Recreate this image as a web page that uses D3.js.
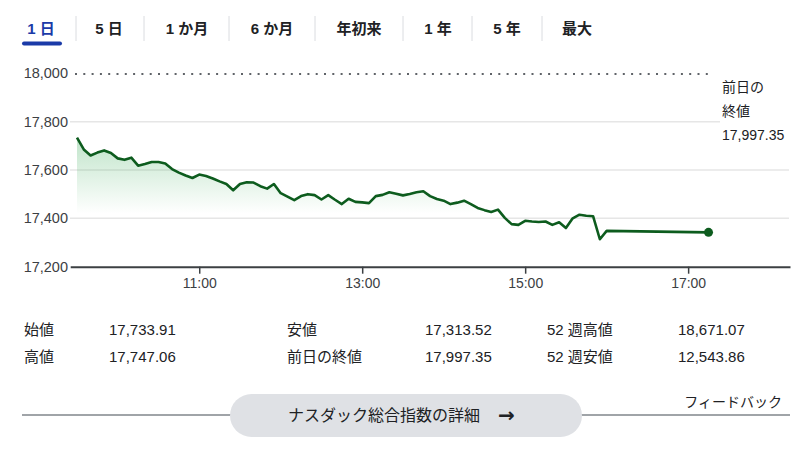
<!DOCTYPE html>
<html><head><meta charset="utf-8">
<script src="https://cdn.jsdelivr.net/npm/d3@7"></script>
<style>
body{margin:0;background:#fff;}
svg{display:block;font-family:"Liberation Sans",Arial,"Noto Sans CJK JP",sans-serif;}
</style></head>
<body><svg id="c" width="800" height="476"></svg>
<script>
const tabs = ["1 日","5 日","1 か月","6 か月","年初来","1 年","5 年","最大"];
const times = ["09:30","09:35","09:40","09:45","09:50","09:55",
"10:00","10:05","10:10","10:15","10:20","10:25","10:30","10:35","10:40","10:45","10:50","10:55",
"11:00","11:05","11:10","11:15","11:20","11:25","11:30","11:35","11:40","11:45","11:50","11:55",
"12:00","12:05","12:10","12:15","12:20","12:25","12:30","12:35","12:40","12:45","12:50","12:55",
"13:00","13:05","13:10","13:15","13:20","13:25","13:30","13:35","13:40","13:45","13:50","13:55",
"14:00","14:05","14:10","14:15","14:20","14:25","14:30","14:35","14:40","14:45","14:50","14:55",
"15:00","15:05","15:10","15:15","15:20","15:25","15:30","15:35","15:40","15:45","15:50","15:55",
"16:00","17:15"];
const values = [17734,17685,17660,17672,17681,17670,17648,17642,17651,17618,
17625,17633,17633,17627,17604,17589,17577,17567,17581,17575,
17565,17553,17542,17516,17542,17549,17548,17533,17523,17542,
17504,17490,17475,17492,17500,17496,17478,17496,17477,17459,
17481,17468,17466,17463,17492,17497,17508,17502,17495,17501,
17508,17512,17492,17480,17473,17459,17465,17473,17459,17443,
17434,17426,17436,17402,17376,17373,17390,17387,17385,17387,
17373,17384,17360,17400,17415,17411,17409,17313.52,17348,17342];
const yTicks = [17200,17400,17600,17800,18000];
const xTicks = ["11:00","13:00","15:00","17:00"];
const prevClose = 17997.35;
const statLabels1 = ["始値","高値"];
const statValues1 = ["17,733.91","17,747.06"];
const statLabels2 = ["安値","前日の終値"];
const statValues2 = ["17,313.52","17,997.35"];
const statLabels3 = ["52 週高値","52 週安値"];
const statValues3 = ["18,671.07","12,543.86"];

const svg = d3.select("#c");
const parse = d3.timeParse("%H:%M");
const data = times.map((t,i)=>({t:parse(t), v:values[i]}));

const x = d3.scaleTime().domain([parse("09:25"), parse("18:15")]).range([70.2, 790]);
const y = d3.scaleLinear().domain([17200,18000]).range([266.7,73.3]);

// tabs
const tabCenters = [41,109,187,272,359,438,507,577];
const sepX = [76,144,229,315,403,472,542];
svg.selectAll(".sep").data(sepX).join("line")
  .attr("x1",d=>d).attr("x2",d=>d).attr("y1",16).attr("y2",41)
  .attr("stroke","#dadce0").attr("stroke-width",1);
svg.selectAll(".tab").data(tabs).join("text")
  .attr("x",(d,i)=>tabCenters[i]).attr("y",34)
  .attr("text-anchor","middle").attr("font-size",15).attr("font-weight",600)
  .attr("fill",(d,i)=>i===0?"#1a3aa8":"#202124").text(d=>d);
svg.append("rect").attr("x",22).attr("y",41.5).attr("width",40).attr("height",4).attr("rx",2)
  .attr("fill","#1a3aa8");

// gradient
const defs = svg.append("defs");
const g = defs.append("linearGradient").attr("id","fillg").attr("gradientUnits","userSpaceOnUse")
  .attr("x1",0).attr("x2",0).attr("y1",y(17740)).attr("y2",y(17420));
g.append("stop").attr("offset",0).attr("stop-color","#34a853").attr("stop-opacity",0.32);
g.append("stop").attr("offset",1).attr("stop-color","#34a853").attr("stop-opacity",0);

// gridlines
[17400,17600].forEach(v=>{
  svg.append("line").attr("x1",70).attr("x2",789).attr("y1",y(v)).attr("y2",y(v))
    .attr("stroke","#e6e6e6").attr("stroke-width",1.5);
});
svg.append("line").attr("x1",70).attr("x2",720).attr("y1",y(17800)).attr("y2",y(17800))
  .attr("stroke","#e6e6e6").attr("stroke-width",1.5);

// previous close dotted
svg.append("line").attr("x1",75).attr("x2",714).attr("y1",y(prevClose)).attr("y2",y(prevClose))
  .attr("stroke","#5f6368").attr("stroke-width",2).attr("stroke-dasharray","2,6.3");

// area + line
const session = data.slice(0, data.length-1);
svg.append("path").datum(session)
  .attr("d", d3.area().x(d=>x(d.t)).y0(y(17200)).y1(d=>y(d.v)))
  .attr("fill","url(#fillg)");
svg.append("path").datum(data)
  .attr("d", d3.line().x(d=>x(d.t)).y(d=>y(d.v)))
  .attr("fill","none").attr("stroke","#0d5c1e").attr("stroke-width",2.6)
  .attr("stroke-linejoin","round");
const last = data[data.length-1];
svg.append("circle").attr("cx",x(last.t)).attr("cy",y(last.v)).attr("r",4.5).attr("fill","#0d5c1e");

// axes
const xa = svg.append("g").attr("transform","translate(0,266.7)")
  .call(d3.axisBottom(x).tickValues(xTicks.map(parse)).tickFormat(d3.timeFormat("%H:%M")).tickSize(7).tickSizeOuter(0).tickPadding(4));
xa.select(".domain").attr("stroke","#3c4043").attr("stroke-width",2);
xa.selectAll(".tick line").attr("stroke","#3c4043").attr("stroke-width",1.5);
xa.selectAll("text").attr("font-size",14).attr("fill","#3c4043").attr("font-family","Liberation Sans,Arial,sans-serif");

const ya = svg.append("g").attr("transform","translate(69,0)")
  .call(d3.axisLeft(y).tickValues(yTicks).tickFormat(d3.format(",")).tickSize(0).tickPadding(1));
ya.select(".domain").remove();
ya.selectAll("text").attr("font-size",14.5).attr("fill","#3c4043").attr("font-family","Liberation Sans,Arial,sans-serif");

// previous close label
const pl = ["前日の","終値","17,997.35"];
svg.selectAll(".pl").data(pl).join("text")
  .attr("x",722).attr("y",(d,i)=>92+i*24).attr("font-size",14).attr("fill","#202124").text(d=>d);

// stats
function statCol(labels, vals, lx, vx){
  labels.forEach((l,i)=>{
    svg.append("text").attr("x",lx).attr("y",335+i*27).attr("font-size",15).attr("fill","#202124").text(l);
    svg.append("text").attr("x",vx).attr("y",335+i*27).attr("font-size",15).attr("fill","#202124").text(vals[i]);
  });
}
statCol(statLabels1, statValues1, 24, 109);
statCol(statLabels2, statValues2, 287, 425);
statCol(statLabels3, statValues3, 547, 678);

// bottom
svg.append("line").attr("x1",22).attr("x2",232).attr("y1",415).attr("y2",415).attr("stroke","#80868b").attr("stroke-width",1.5);
svg.append("line").attr("x1",580).attr("x2",790).attr("y1",415).attr("y2",415).attr("stroke","#80868b").attr("stroke-width",1.5);
svg.append("rect").attr("x",230).attr("y",394).attr("width",352).attr("height",43).attr("rx",21.5)
  .attr("fill","#dfe1e5");
svg.append("text").attr("x",288).attr("y",421).attr("font-size",16).attr("fill","#202124").text("ナスダック総合指数の詳細");
svg.append("text").attr("x",498).attr("y",422).attr("font-size",20).attr("font-weight",700)
  .attr("font-family","DejaVu Sans,sans-serif").attr("fill","#202124").text("→");
svg.append("text").attr("x",782).attr("y",407).attr("text-anchor","end").attr("font-size",14).attr("fill","#202124").text("フィードバック");
</script></body></html>
